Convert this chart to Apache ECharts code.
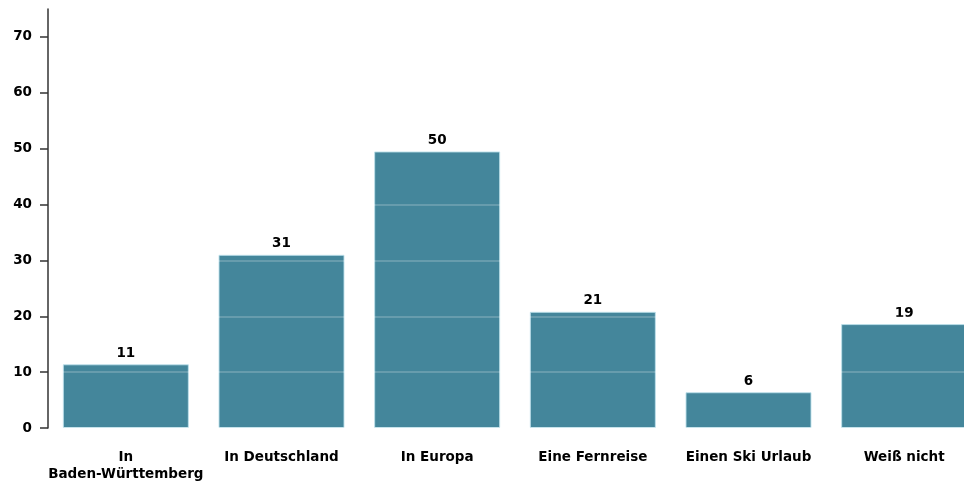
<!DOCTYPE html>
<html><head><meta charset="utf-8">
<script src="https://cdn.jsdelivr.net/npm/echarts@6/dist/echarts.min.js"></script>
<style>html,body{margin:0;padding:0;background:#fff}#c{width:964px;height:483px}</style>
</head><body><div id="c"></div>
<script>
var categories = ['In\nBaden-Württemberg', 'In Deutschland', 'In Europa', 'Eine Fernreise', 'Einen Ski Urlaub', 'Weiß nicht'];
var values = [11.4, 31, 49.5, 20.8, 6.4, 18.6];
var yTicks = [0, 10, 20, 30, 40, 50, 60, 70];

var chart = echarts.init(document.getElementById('c'));
chart.setOption({
  animation: false,
  textStyle: {fontFamily: 'DejaVu Sans, sans-serif'},
  grid: {left: 48, top: 9, width: 934, height: 419, outerBoundsMode: 'none', containLabel: false},
  xAxis: {
    type: 'category', data: categories,
    axisLine: {show: false}, axisTick: {show: false},
    axisLabel: {color: '#000', fontWeight: 'bold', fontSize: 13.5, margin: 21, lineHeight: 17, interval: 0}
  },
  yAxis: {
    type: 'value', min: 0, max: 75, interval: 10, z: 5,
    axisLine: {show: true, lineStyle: {color: '#333', width: 1.5}},
    axisTick: {show: true, length: 8, customValues: yTicks, lineStyle: {color: '#333', width: 1.5}},
    axisLabel: {customValues: yTicks, color: '#000', fontWeight: 'bold', fontSize: 13.5, margin: 16},
    splitLine: {show: true, lineStyle: {color: 'rgba(255,255,255,0.25)', width: 1.5}}
  },
  series: [{
    type: 'bar', data: values, barWidth: 126, z: 2,
    itemStyle: {color: '#44869b', borderColor: 'rgba(190,225,235,0.9)', borderWidth: 1},
    label: {show: true, position: 'top', distance: 4, color: '#000', fontWeight: 'bold', fontSize: 13.5,
      formatter: function(p){ return Math.round(p.value); }}
  }]
});
</script></body></html>
